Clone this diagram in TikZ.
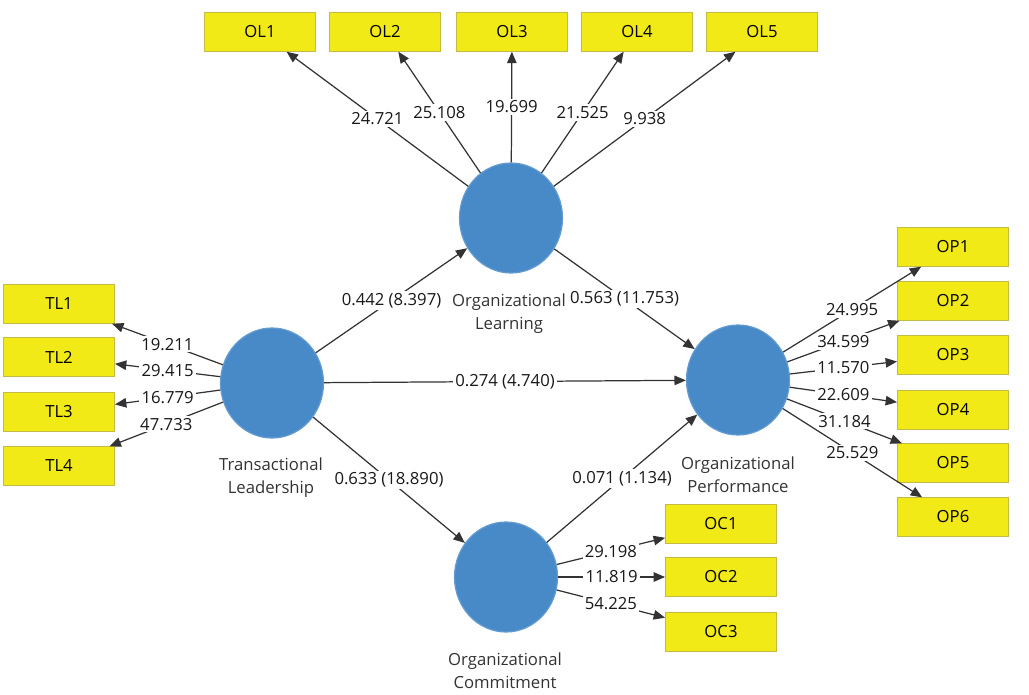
\documentclass[tikz,border=0pt]{standalone}
\usepackage{fontspec}
\setmainfont{Open Sans}
\usetikzlibrary{arrows.meta,shapes.geometric}
\definecolor{plsblu}{RGB}{72,137,200}
\definecolor{plsgiallo}{RGB}{242,234,22}
\definecolor{plsbordo}{RGB}{196,186,70}

\begin{document}
\begin{tikzpicture}[x=0.02cm, y=-0.02cm, line width=0.7pt,
  font=\fontsize{9.5}{13}\selectfont,
  lat/.style={ellipse, fill=plsblu, draw=plsblu!85!white, minimum width=2.06cm, minimum height=2.2cm, inner sep=0pt},
  ind/.style={rectangle, fill=plsgiallo, draw=plsbordo, line width=0.5pt, minimum width=2.22cm, minimum height=0.77cm, inner sep=0pt},
  nome/.style={align=center, text=black!80},
  coef/.style={midway, fill=white, inner sep=1.2pt, text=black!90},
  freccia/.style={draw=black!80, -{Triangle[length=6.5pt,width=5.4pt]}}]
\useasboundingbox (0,0) rectangle (1029,694);

% Variabili latenti
\node[lat] (TL) at (272,383) {};
\node[lat] (OL) at (511,218) {};
\node[lat] (OP) at (738,380) {};
\node[lat] (OC) at (506,577) {};

\node[nome] (TLnome) at (271,478) {Transactional\\Leadership};
\node[nome] (OLnome) at (509,314) {Organizational\\Learning};
\node[nome] (OPnome) at (738,475) {Organizational\\Performance};
\node[nome] (OCnome) at (505,671) {Organizational\\Commitment};

% Indicatori
\node[ind] (OL1) at (260,32) {OL1};
\node[ind] (OL2) at (385,32) {OL2};
\node[ind] (OL3) at (512,32) {OL3};
\node[ind] (OL4) at (637,32) {OL4};
\node[ind] (OL5) at (762,32) {OL5};

\node[ind] (TL1) at (59,304) {TL1};
\node[ind] (TL2) at (59,357) {TL2};
\node[ind] (TL3) at (59,412) {TL3};
\node[ind] (TL4) at (59,466) {TL4};

\node[ind] (OP1) at (953,247) {OP1};
\node[ind] (OP2) at (953,301) {OP2};
\node[ind] (OP3) at (953,355) {OP3};
\node[ind] (OP4) at (953,410) {OP4};
\node[ind] (OP5) at (953,463) {OP5};
\node[ind] (OP6) at (953,517) {OP6};

\node[ind] (OC1) at (721,524) {OC1};
\node[ind] (OC2) at (721,577) {OC2};
\node[ind] (OC3) at (721,632) {OC3};

% Carichi esterni: Organizational Learning
\draw[freccia] (OL) -- (OL1) node[coef] {24.721};
\draw[freccia] (OL) -- (OL2) node[coef] {25.108};
\draw[freccia] (OL) -- (OL3) node[coef] {19.699};
\draw[freccia] (OL) -- (OL4) node[coef] {21.525};
\draw[freccia] (OL) -- (OL5) node[coef] {9.938};

% Carichi esterni: Transactional Leadership
\draw[freccia] (TL) -- (TL1) node[coef] {19.211};
\draw[freccia] (TL) -- (TL2) node[coef] {29.415};
\draw[freccia] (TL) -- (TL3) node[coef] {16.779};
\draw[freccia] (TL) -- (TL4) node[coef] {47.733};

% Carichi esterni: Organizational Performance
\draw[freccia] (OP) -- (OP1) node[coef] {24.995};
\draw[freccia] (OP) -- (OP2) node[coef] {34.599};
\draw[freccia] (OP) -- (OP3) node[coef] {11.570};
\draw[freccia] (OP) -- (OP4) node[coef] {22.609};
\draw[freccia] (OP) -- (OP5) node[coef] {31.184};
\draw[freccia] (OP) -- (OP6) node[coef] {25.529};

% Carichi esterni: Organizational Commitment
\draw[freccia] (OC) -- (OC1) node[coef] {29.198};
\draw[freccia] (OC) -- (OC2) node[coef] {11.819};
\draw[freccia] (OC) -- (OC3) node[coef] {54.225};

% Modello strutturale
\draw[freccia] (TL) -- (OL) node[coef] {0.442 (8.397)};
\draw[freccia] (OL) -- (OP) node[coef] {0.563 (11.753)};
\draw[freccia] (TL) -- (OP) node[coef] {0.274 (4.740)};
\draw[freccia] (TL) -- (OC) node[coef] {0.633 (18.890)};
\draw[freccia] (OC) -- (OP) node[coef] {0.071 (1.134)};
\end{tikzpicture}
\end{document}
